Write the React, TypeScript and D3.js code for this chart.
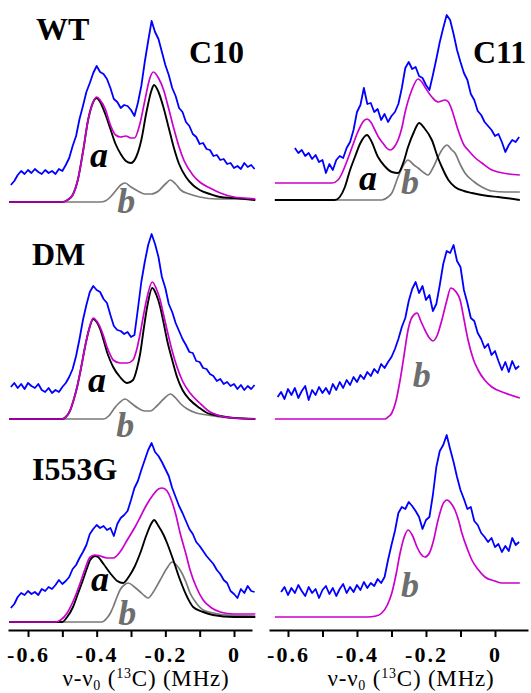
import { useEffect, useRef } from 'react';
import { scaleLinear, line, curveMonotoneX, curveLinear, axisBottom, select } from 'd3';

const width = 531;
const height = 693;
const FONT = '"Liberation Serif", "Times New Roman", serif';

// frequency grid (MHz) of the measured spectra
const FREQ = [-0.65,-0.64,-0.63,-0.62,-0.61,-0.6,-0.59,-0.58,-0.57,-0.56,-0.55,-0.54,-0.53,-0.52,-0.51,-0.5,-0.49,-0.48,-0.47,-0.46,-0.45,-0.44,-0.43,-0.42,-0.41,-0.4,-0.39,-0.38,-0.37,-0.36,-0.35,-0.34,-0.33,-0.32,-0.31,-0.3,-0.29,-0.28,-0.27,-0.26,-0.25,-0.24,-0.23,-0.22,-0.21,-0.2,-0.19,-0.18,-0.17,-0.16,-0.15,-0.14,-0.13,-0.12,-0.11,-0.1,-0.09,-0.08,-0.07,-0.06,-0.05,-0.04,-0.03,-0.02,-0.01,0,0.01,0.02,0.03,0.04,0.05,0.06,0.07];

const TICK_VALUES = [-0.6, -0.5, -0.4, -0.3, -0.2, -0.1, 0];
const TICK_LABELS = ['-0.6', '', '-0.4', '', '-0.2', '', '0'];

// ---- C10 (left column) ----
const wtC10Exp = [17,21,27,31,28,32,29,33,30,28,32,29,31,28,33,31,37,44,56,66,83,96,110,119,129,136,130,128,123,114,103,100,94,97,96,92,86,99,116,140,161,181,170,163,150,137,127,114,106,94,90,80,76,68,65,58,59,53,52,46,47,42,43,38,39,34,36,33,39,35,37,33,null];
const wtC10Sim = [[-0.655,0],[-0.5,0],[-0.485,2],[-0.47,7],[-0.455,22],[-0.44,50],[-0.425,82],[-0.41,100],[-0.4,105],[-0.39,102],[-0.375,93],[-0.36,77],[-0.345,67],[-0.33,65],[-0.315,66],[-0.3,64],[-0.29,64],[-0.275,77],[-0.26,101],[-0.245,124],[-0.235,130],[-0.22,124],[-0.205,112],[-0.19,93],[-0.175,73],[-0.16,55],[-0.145,41],[-0.12,27],[-0.1,20],[-0.07,14],[-0.04,9],[0,5],[0.03,4],[0.062,3]];
const wtC10A = [[-0.655,0],[-0.5,0],[-0.485,2],[-0.47,7],[-0.455,22],[-0.44,50],[-0.425,82],[-0.41,100],[-0.4,104],[-0.39,100],[-0.375,88],[-0.36,73],[-0.345,58],[-0.33,48],[-0.315,41],[-0.3,39],[-0.285,45],[-0.27,62],[-0.255,90],[-0.24,112],[-0.233,117],[-0.22,110],[-0.205,94],[-0.19,74],[-0.175,54],[-0.16,38],[-0.14,25],[-0.12,17],[-0.1,12],[-0.07,8],[-0.04,5],[0,4],[0.062,2]];
const wtC10B = [[-0.655,0],[-0.39,0],[-0.375,1],[-0.36,5],[-0.345,11],[-0.33,17],[-0.317,19],[-0.3,15],[-0.28,11],[-0.26,8],[-0.24,8],[-0.22,11],[-0.2,18],[-0.185,22],[-0.17,18],[-0.155,12],[-0.13,8],[-0.1,5],[-0.05,3],[0,3],[0.062,2]];

const dmC10Exp = [32,36,31,35,30,36,33,31,35,29,27,31,26,29,27,32,36,42,50,63,80,99,114,127,133,129,127,120,116,104,93,89,88,85,87,82,84,110,137,157,174,185,175,162,142,131,115,107,96,88,80,74,67,66,58,57,51,50,45,43,38,40,35,37,33,35,30,34,29,33,30,34,null];
const dmC10Sim = [[-0.655,0],[-0.5,0],[-0.49,2],[-0.478,8],[-0.468,18],[-0.457,32],[-0.445,52],[-0.434,72],[-0.422,90],[-0.41,101],[-0.4,98],[-0.39,92],[-0.38,83],[-0.37,72],[-0.36,64],[-0.352,59],[-0.332,56],[-0.311,56],[-0.294,59],[-0.283,70],[-0.273,86],[-0.263,105],[-0.253,122],[-0.238,137],[-0.226,130],[-0.215,119],[-0.205,104],[-0.195,89],[-0.18,68],[-0.166,52],[-0.15,38],[-0.128,26],[-0.1,16],[-0.078,9],[-0.04,3],[0,1],[0.062,0]];
const dmC10A = [[-0.655,0],[-0.5,0],[-0.49,2],[-0.478,8],[-0.468,18],[-0.457,32],[-0.445,52],[-0.434,72],[-0.422,90],[-0.41,100],[-0.4,97],[-0.39,90],[-0.38,79],[-0.37,67],[-0.36,58],[-0.352,52],[-0.332,42],[-0.311,36],[-0.294,39],[-0.283,50],[-0.273,66],[-0.263,90],[-0.253,112],[-0.238,131],[-0.226,124],[-0.215,112],[-0.205,96],[-0.195,79],[-0.18,59],[-0.166,42],[-0.15,29],[-0.128,19],[-0.1,11],[-0.078,6],[-0.04,3],[0,1],[0.062,0]];
const dmC10B = [[-0.655,0],[-0.38,0],[-0.365,3],[-0.35,10],[-0.335,16],[-0.317,20],[-0.3,16],[-0.28,11],[-0.26,8],[-0.244,8],[-0.225,13],[-0.205,20],[-0.185,25],[-0.17,21],[-0.155,15],[-0.136,10],[-0.11,6],[-0.078,4],[-0.04,2],[0,1],[0.062,0]];

const iC10Exp = [14,18,25,29,27,31,28,30,27,33,31,35,33,37,42,38,41,45,53,57,64,70,77,88,93,97,94,96,92,94,86,98,104,107,111,122,134,141,152,162,172,179,170,166,160,153,146,134,125,116,109,101,93,88,80,76,71,66,62,58,52,48,42,39,31,28,24,33,29,36,31,30,null];
const iC10Sim = [[-0.655,0],[-0.52,0],[-0.505,2],[-0.486,9],[-0.467,22],[-0.448,39],[-0.434,53],[-0.419,65],[-0.405,67],[-0.39,66],[-0.37,64],[-0.352,64],[-0.33,71],[-0.311,82],[-0.29,94],[-0.273,105],[-0.255,117],[-0.236,127],[-0.22,133],[-0.209,134],[-0.195,131],[-0.186,125],[-0.17,108],[-0.157,89],[-0.14,68],[-0.128,52],[-0.11,35],[-0.09,22],[-0.065,14],[-0.04,10],[0,8],[0.062,8]];
const iC10A = [[-0.655,0],[-0.5,0],[-0.486,5],[-0.469,15],[-0.455,28],[-0.44,42],[-0.429,53],[-0.419,62],[-0.405,66],[-0.396,65],[-0.38,58],[-0.361,49],[-0.34,41],[-0.323,39],[-0.305,46],[-0.29,55],[-0.273,69],[-0.255,87],[-0.24,99],[-0.233,102],[-0.22,96],[-0.205,87],[-0.195,79],[-0.175,60],[-0.157,42],[-0.135,24],[-0.119,15],[-0.09,10],[-0.061,7],[0,5],[0.062,5]];
const iC10B = [[-0.655,0],[-0.385,0],[-0.37,4],[-0.36,9],[-0.352,15],[-0.342,24],[-0.332,32],[-0.32,37],[-0.308,39],[-0.29,35],[-0.273,30],[-0.26,26],[-0.25,24],[-0.235,30],[-0.215,42],[-0.195,54],[-0.18,60],[-0.168,57],[-0.157,52],[-0.14,40],[-0.128,29],[-0.11,19],[-0.09,12],[-0.06,9],[-0.02,7],[0.062,6]];

// ---- C11 (right column) ----
const wtC11Exp = [null,null,null,null,null,null,null,52,47,50,44,47,41,45,38,40,27,36,30,40,44,42,52,58,70,88,95,112,96,97,88,91,80,86,78,84,88,96,112,132,138,131,133,124,122,115,110,125,141,158,172,185,180,166,150,138,127,120,106,100,89,85,78,74,70,64,66,58,48,55,60,58,63];
const wtC11Sim = [[-0.638,17],[-0.472,17],[-0.455,20],[-0.443,27],[-0.43,38],[-0.414,53],[-0.4,66],[-0.391,73],[-0.383,78],[-0.371,81],[-0.36,78],[-0.348,70],[-0.336,62],[-0.325,57],[-0.314,52],[-0.304,50],[-0.29,54],[-0.281,60],[-0.27,72],[-0.261,87],[-0.241,110],[-0.223,121],[-0.21,117],[-0.203,113],[-0.183,103],[-0.165,98],[-0.145,100],[-0.135,98],[-0.125,90],[-0.107,70],[-0.09,55],[-0.078,50],[-0.06,43],[-0.038,37],[-0.009,30],[0.009,28],[0.04,26],[0.072,25]];
const wtC11A = [[-0.638,0],[-0.464,0],[-0.45,3],[-0.435,13],[-0.42,30],[-0.406,43],[-0.39,57],[-0.371,65],[-0.36,60],[-0.339,43],[-0.32,34],[-0.299,28],[-0.281,27],[-0.265,38],[-0.252,53],[-0.235,68],[-0.22,77],[-0.205,72],[-0.183,60],[-0.165,42],[-0.154,33],[-0.135,20],[-0.116,13],[-0.09,9],[-0.067,7],[-0.02,4],[0.009,3],[0.072,0]];
const wtC11B = [[-0.638,0],[-0.328,0],[-0.31,3],[-0.299,7],[-0.281,23],[-0.265,35],[-0.252,40],[-0.235,35],[-0.223,32],[-0.205,27],[-0.194,25],[-0.18,32],[-0.165,43],[-0.15,52],[-0.139,55],[-0.125,50],[-0.116,47],[-0.1,35],[-0.087,27],[-0.06,18],[-0.038,13],[-0.009,9],[0.03,8],[0.072,8]];

const dmC11Exp = [null,null,22,27,20,30,24,31,21,28,33,19,29,24,32,26,31,25,35,29,37,31,39,34,42,37,44,40,47,43,50,46,55,51,57,62,70,80,92,101,118,130,137,126,133,119,124,108,115,134,155,168,166,174,158,152,129,116,101,98,86,80,71,75,64,68,58,49,57,47,58,50,53];
const dmC11Sim = [[-0.638,0],[-0.319,0],[-0.31,2],[-0.299,6],[-0.287,18],[-0.275,39],[-0.263,65],[-0.252,89],[-0.24,102],[-0.226,106],[-0.215,98],[-0.203,89],[-0.19,81],[-0.18,78],[-0.167,84],[-0.154,99],[-0.14,118],[-0.128,131],[-0.115,128],[-0.101,119],[-0.09,100],[-0.078,79],[-0.063,60],[-0.049,49],[-0.03,39],[-0.009,32],[0.029,26],[0.072,21]];

const iC11Exp = [null,null,null,25,30,22,29,24,32,26,21,30,24,28,19,27,31,23,29,21,28,33,24,30,25,32,27,35,29,34,31,38,34,40,57,72,86,104,110,108,115,111,106,100,88,97,100,122,150,166,172,182,168,155,140,127,118,108,110,96,92,84,80,75,79,70,73,65,71,66,79,72,75];
const iC11Sim = [[-0.638,0],[-0.37,0],[-0.345,1],[-0.328,4],[-0.312,12],[-0.299,24],[-0.287,42],[-0.275,64],[-0.263,80],[-0.252,87],[-0.24,82],[-0.226,70],[-0.215,63],[-0.203,60],[-0.19,64],[-0.18,74],[-0.165,97],[-0.152,112],[-0.139,117],[-0.128,114],[-0.116,107],[-0.105,96],[-0.096,84],[-0.08,68],[-0.067,57],[-0.05,48],[-0.029,40],[0,36],[0.02,34],[0.072,34]];

// panel layout table built from the arrays above
const xLeft = scaleLinear().domain([-0.6583, 0.0524]).range([8, 252]);
const xRight = scaleLinear().domain([-0.655, 0.0957]).range([269, 528]);

const panels = [
  { x: xLeft, base: 202, exp: wtC10Exp, sim: wtC10Sim, a: wtC10A, b: wtC10B, aPos: [-0.393, 35], bPos: [-0.314, -11] },
  { x: xLeft, base: 419, exp: dmC10Exp, sim: dmC10Sim, a: dmC10A, b: dmC10B, aPos: [-0.399, 27], bPos: [-0.317, -18] },
  { x: xLeft, base: 622, exp: iC10Exp, sim: iC10Sim, a: iC10A, b: iC10B, aPos: [-0.39, 31], bPos: [-0.311, -3] },
  { x: xRight, base: 200, exp: wtC11Exp, sim: wtC11Sim, a: wtC11A, b: wtC11B, aPos: [-0.368, 10], bPos: [-0.246, 6] },
  { x: xRight, base: 419, exp: dmC11Exp, sim: dmC11Sim, a: null, b: null, aPos: null, bPos: [-0.212, 32] },
  { x: xRight, base: 617, exp: iC11Exp, sim: iC11Sim, a: null, b: null, aPos: null, bPos: [-0.246, 20] },
];

const names = [
  { text: 'WT', x: 36, y: 40 },
  { text: 'DM', x: 32, y: 265 },
  { text: 'I553G', x: 32, y: 480 },
  { text: 'C10', x: 189, y: 63 },
  { text: 'C11', x: 473, y: 63 },
];

function Panel({ p }) {
  const y = scaleLinear().domain([0, 200]).range([p.base, p.base - 200]);
  const smooth = line()
    .x((d) => p.x(d[0]))
    .y((d) => y(d[1]))
    .curve(curveMonotoneX);
  const noisy = line()
    .defined((d) => d != null)
    .x((d, i) => p.x(FREQ[i]))
    .y((d) => y(d))
    .curve(curveLinear);
  return (
    <g>
      {p.b && <path d={smooth(p.b)} fill="none" stroke="#7a7a7a" strokeWidth={1.7} />}
      {p.a && <path d={smooth(p.a)} fill="none" stroke="#000" strokeWidth={1.9} />}
      <path d={smooth(p.sim)} fill="none" stroke="#cc00cc" strokeWidth={1.7} />
      <path d={noisy(p.exp)} fill="none" stroke="#0000ff" strokeWidth={1.8} strokeLinejoin="round" />
      {p.aPos && (
        <text x={p.x(p.aPos[0])} y={y(p.aPos[1])} textAnchor="middle" fontFamily={FONT}
          fontSize={36} fontWeight="bold" fontStyle="italic" fill="#000">a</text>
      )}
      {p.bPos && (
        <text x={p.x(p.bPos[0])} y={y(p.bPos[1])} textAnchor="middle" fontFamily={FONT}
          fontSize={36} fontWeight="bold" fontStyle="italic" fill="#6e6e6e">b</text>
      )}
    </g>
  );
}

export default function App() {
  const ref = useRef(null);

  useEffect(() => {
    const svg = select(ref.current);
    [xLeft, xRight].forEach((x, i) => {
      const g = svg.select(`.axis-${i}`);
      g.call(
        axisBottom(x)
          .tickValues(TICK_VALUES)
          .tickSizeInner(7)
          .tickSizeOuter(0)
          .tickFormat((d, k) => TICK_LABELS[k])
      );
      g.attr('font-size', null).attr('font-family', null);
      g.select('.domain').attr('stroke-width', 2);
      g.selectAll('.tick line').attr('stroke-width', 2);
      g.selectAll('.tick text')
        .attr('y', 16)
        .style('font-family', FONT)
        .style('font-size', '22px')
        .style('font-weight', 'bold')
        .style('letter-spacing', '2px')
        .attr('fill', '#000');
    });
  }, []);

  return (
    <svg ref={ref} width={width} height={height}
      style={{ position: 'absolute', left: 0, top: 0, background: '#fff' }}>
      {panels.map((p, i) => <Panel key={i} p={p} />)}
      {names.map((n) => (
        <text key={n.text} x={n.x} y={n.y} fontFamily={FONT} fontSize={32} fontWeight="bold">{n.text}</text>
      ))}
      <g className="axis-0" transform="translate(0,630)" />
      <g className="axis-1" transform="translate(0,630)" />
      {[146, 411].map((cx) => (
        <text key={cx} x={cx} y={686} textAnchor="middle" fontFamily={FONT} fontSize={23} letterSpacing={0.8}>
          ν-ν<tspan dy={4} fontSize={14}>0</tspan><tspan dy={-4}> (</tspan>
          <tspan dy={-8} fontSize={14}>13</tspan><tspan dy={8}>C) (MHz)</tspan>
        </text>
      ))}
    </svg>
  );
}
